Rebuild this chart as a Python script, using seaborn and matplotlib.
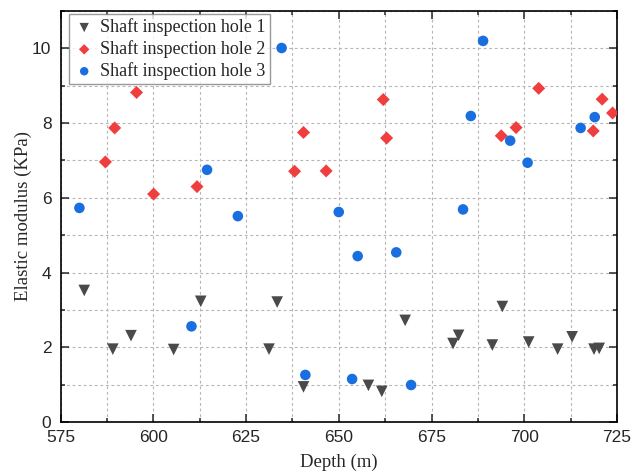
import numpy as np
import pandas as pd
import matplotlib
matplotlib.use("Agg")
import matplotlib.pyplot as plt
from matplotlib.ticker import MultipleLocator
import seaborn as sns

# depth (m) and elastic modulus (KPa)
hole1_depth = [581.4, 589.1, 594.0, 605.5, 612.8, 631.2, 633.4, 640.5, 658.0, 661.6,
               667.9, 680.8, 682.3, 691.4, 694.1, 701.2, 709.0, 712.9, 718.8, 720.2]
hole1_modulus = [3.52, 1.95, 2.31, 1.94, 3.23, 1.95, 3.21, 0.94, 0.98, 0.82,
                 2.72, 2.10, 2.32, 2.06, 3.09, 2.14, 1.95, 2.28, 1.95, 1.97]

hole2_depth = [587.1, 589.6, 595.5, 600.1, 611.8, 638.1, 640.5, 646.6,
               662.0, 662.9, 693.8, 697.8, 703.9, 718.6, 721.0, 723.8]
hole2_modulus = [6.96, 7.87, 8.82, 6.10, 6.30, 6.71, 7.75, 6.72,
                 8.63, 7.60, 7.66, 7.88, 8.93, 7.79, 8.64, 8.27]

hole3_depth = [580.1, 610.3, 614.5, 622.8, 634.6, 641.0, 650.0, 653.6, 655.1,
               665.5, 669.5, 683.5, 685.6, 688.9, 696.2, 700.9, 715.2, 719.0]
hole3_modulus = [5.73, 2.56, 6.75, 5.51, 10.01, 1.26, 5.62, 1.15, 4.44,
                 4.54, 0.99, 5.69, 8.19, 10.20, 7.53, 6.94, 7.87, 8.16]

labels = ["Shaft inspection hole 1", "Shaft inspection hole 2", "Shaft inspection hole 3"]
colors = ["#4a4a4a", "#f03e3e", "#1a6fe0"]
markers = ["v", "D", "o"]
sizes = [70, 44, 58]

sns.set_style("ticks")
plt.rcParams["font.family"] = ["Liberation Sans", "DejaVu Sans"]
serif = ["Liberation Serif", "DejaVu Serif"]

fig = plt.figure(figsize=(6.44, 4.76), dpi=100)
ax = fig.add_axes([60.5 / 644, 1 - 422 / 476, 556.5 / 644, 411 / 476])

series = [(hole1_depth, hole1_modulus), (hole2_depth, hole2_modulus), (hole3_depth, hole3_modulus)]
for (d, m), lab, c, mk, s in zip(series, labels, colors, markers, sizes):
    df = pd.DataFrame({"depth": d, "modulus": m})
    sns.scatterplot(data=df, x="depth", y="modulus", ax=ax, color=c, marker=mk,
                    s=s, edgecolor="none", linewidth=0, label=lab, zorder=3)

ax.set_xlim(575, 725)
ax.set_ylim(0, 11)
ax.xaxis.set_major_locator(MultipleLocator(25))
ax.xaxis.set_minor_locator(MultipleLocator(12.5))
ax.yaxis.set_major_locator(MultipleLocator(2))
ax.yaxis.set_minor_locator(MultipleLocator(1))

ax.grid(which="both", color="#b5b5b5", linestyle=(0, (2.5, 2.5)), linewidth=0.8, zorder=0)
ax.set_axisbelow(True)

ax.tick_params(which="both", direction="in", top=True, right=True, labelsize=12.5, width=1.1)
ax.tick_params(which="major", length=6)
ax.tick_params(which="minor", length=3)
ax.tick_params(axis="x", which="major", pad=6)
ax.tick_params(axis="y", which="major", pad=6.5)
for sp in ax.spines.values():
    sp.set_linewidth(1.2)
    sp.set_color("black")

ax.set_xlabel("Depth (m)", fontsize=13.5, family=serif, labelpad=6)
ax.set_ylabel("Elastic modulus (KPa)", fontsize=13.5, family=serif, labelpad=0)

leg = ax.legend(loc="upper left", bbox_to_anchor=(0.015, 0.993),
                prop={"family": serif, "size": 13}, frameon=True,
                fancybox=False, edgecolor="#808080", handletextpad=0.3,
                borderpad=0.25, labelspacing=0.22, borderaxespad=0,
                handlelength=1.2, markerscale=0.8)
leg.get_frame().set_linewidth(1.0)

fig.savefig("out.png", dpi=100)
